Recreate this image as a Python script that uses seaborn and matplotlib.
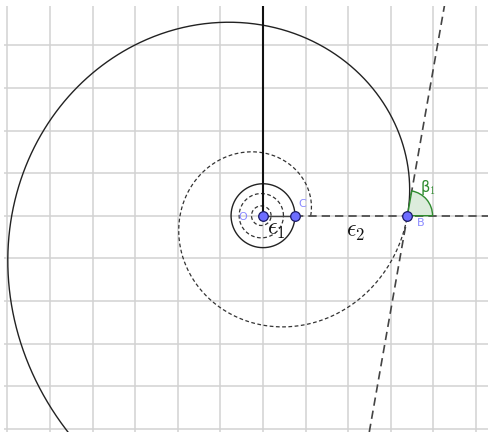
import numpy as np
import pandas as pd
import matplotlib
matplotlib.use("Agg")
import matplotlib.pyplot as plt
from matplotlib.patches import Wedge
import seaborn as sns

# ---- data (grid units, origin at O) ----
point_names = ["O", "C", "B"]
point_x = [0.0, 0.75, 3.39]
point_y = [0.0, 0.0, 0.0]
beta1_deg = 80.0               # angle between tangent and ray OB
r_B = 3.39                     # |OB|
solid_theta = [0.0, 4.3]       # solid spiral arc (rad)
dashed_theta = [-2 * np.pi, 0.0]  # dashed inner turn of the spiral
inner_circle_r = [0.23, 0.52]  # small dashed rings near O
eps_labels = [r"$\epsilon_1$", r"$\epsilon_2$"]
eps_x = [0.30, 2.18]
eps_y = [-0.32, -0.36]

xlim = (-6.08, 5.305)
ylim = (-5.077, 4.934)

sns.set_theme(style="white")
plt.rcParams["mathtext.fontset"] = "cm"
plt.rcParams["font.family"] = ["DejaVu Sans"]

fig = plt.figure(figsize=(4.89, 4.32), dpi=100)
ax = fig.add_axes([4 / 489, 0, 485 / 489, 1 - 5.5 / 432])
ax.set_xlim(*xlim)
ax.set_ylim(*ylim)
ax.set_aspect("equal", adjustable="box")
for s in ax.spines.values():
    s.set_visible(False)
ax.set_xticks(np.arange(-6, 6))
ax.set_yticks(np.arange(-5, 5))
ax.tick_params(length=0, labelbottom=False, labelleft=False)
ax.grid(True, color="#d2d2d2", lw=1.1)
ax.set_axisbelow(True)

# log spiral r = r_B * exp(b*theta), b from the tangent angle
b = 1 / np.tan(np.radians(beta1_deg))


def spiral(t0, t1):
    t = np.linspace(t0, t1, 600)
    r = r_B * np.exp(b * t)
    return pd.DataFrame({"x": r * np.cos(t), "y": r * np.sin(t)})


sp_solid = spiral(*solid_theta)
sns.lineplot(data=sp_solid, x="x", y="y", sort=False, estimator=None,
             color="#222222", lw=1.0, ax=ax)
sp_dash = spiral(*dashed_theta)
sns.lineplot(data=sp_dash, x="x", y="y", sort=False, estimator=None,
             color="#333333", lw=0.9, ax=ax, linestyle=(0, (3, 2)))

t = np.linspace(0, 2 * np.pi, 300)
for rr in inner_circle_r:
    ring = pd.DataFrame({"x": rr * np.cos(t) - 0.04, "y": rr * np.sin(t)})
    sns.lineplot(data=ring, x="x", y="y", sort=False, estimator=None,
                 color="#333333", lw=0.9, ax=ax, linestyle=(0, (3, 2)))

# solid circle through C
circ = pd.DataFrame({"x": point_x[1] * np.cos(t), "y": point_x[1] * np.sin(t)})
sns.lineplot(data=circ, x="x", y="y", sort=False, estimator=None,
             color="#222222", lw=1.0, ax=ax)

# vertical segment from O to the top
ax.plot([0, 0], [0, ylim[1]], color="#111111", lw=1.5)
# O-C segment and dashed ray beyond C
ax.plot([point_x[0], point_x[1]], [0, 0], color="#444444", lw=1.0)
ax.plot([point_x[1], xlim[1]], [0, 0], color="#444444", lw=1.2,
        linestyle=(0, (5, 3)))

# tangent line through B
slope = np.tan(np.radians(beta1_deg))
ty = np.array([ylim[0], ylim[1]])
ax.plot(r_B + ty / slope, ty, color="#444444", lw=1.2, linestyle=(0, (5, 3)))

# angle beta_1
ax.add_patch(Wedge((r_B, 0), 0.59, 0, beta1_deg, facecolor="#dcecdc",
                   edgecolor="#2e8b2e", lw=1.0, zorder=3))
ax.text(3.87, 0.66, r"β$_1$", color="#2e8b2e", fontsize=10.5,
        ha="center", va="center")

# points
pts = pd.DataFrame({"x": point_x, "y": point_y, "name": point_names})
sns.scatterplot(data=pts, x="x", y="y", s=48, color="#6d6dff",
                edgecolor="#1a1a66", linewidth=0.9, zorder=5, ax=ax)
lbl_off = {"O": (-0.48, -0.03), "C": (0.17, 0.27), "B": (0.30, -0.16)}
for name, x, y in zip(point_names, point_x, point_y):
    dx, dy = lbl_off[name]
    ax.text(x + dx, y + dy, name, color="#8a8aff", fontsize=8,
            ha="center", va="center")

for lab, x, y in zip(eps_labels, eps_x, eps_y):
    ax.text(x, y, lab, fontsize=17, ha="center", va="center", color="#111111")

ax.set_xlabel("")
ax.set_ylabel("")
fig.savefig("out.png", dpi=100)
